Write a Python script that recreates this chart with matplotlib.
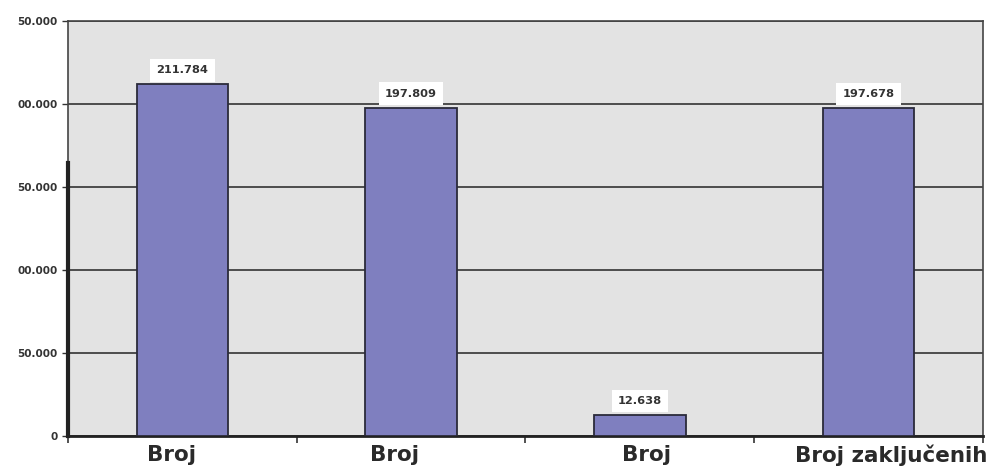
import matplotlib
matplotlib.use("Agg")
import matplotlib.pyplot as plt
import warnings
warnings.filterwarnings("ignore")

categories = ["Broj", "Broj", "Broj", "Broj zaključenih"]
values = [211784, 197809, 12638, 197678]
value_labels = ["211.784", "197.809", "12.638", "197.678"]
yticks = [0, 50000, 100000, 150000, 200000, 250000]
ytick_labels = ["0", "50.000", "00.000", "50.000", "00.000", "50.000"]

# layout: horizontal pixel shifts of the category labels (as in the reference)
label_shift_px = [-11, -17, 7, 23]

FONT = ["DejaVu Sans"]

fig = plt.figure(figsize=(10.04, 4.68), dpi=100)
ax = fig.add_axes([68/1004, 1-436/468, (983-68)/1004, (436-21)/468])
ax.set_facecolor("#e3e3e3")

x = list(range(len(categories)))
ax.bar(x, values, width=0.4, color="#7f7fbf", edgecolor="#2a2a3a", linewidth=1.3, zorder=3)

ax.set_xlim(-0.5, len(categories) - 0.5)
ax.set_ylim(0, 250000)
ax.set_yticks(yticks)
ax.set_yticklabels(ytick_labels, fontsize=7.5, fontweight="bold", color="#333333", family=FONT)
ax.yaxis.grid(True, color="#333333", linewidth=1.2, zorder=1)
ax.set_axisbelow(True)

ax.set_xticks([i - 0.5 for i in range(len(categories) + 1)])
ax.set_xticklabels([])
ax.tick_params(axis="x", length=5, width=1.2, color="#333333", direction="out")
ax.tick_params(axis="y", length=4, width=1.0, color="#333333", pad=3.5)

for s in ax.spines.values():
    s.set_color("#444444")
    s.set_linewidth(1.2)
ax.spines["bottom"].set_linewidth(2.0)
ax.spines["bottom"].set_color("#222222")

# category labels
for i, c in enumerate(categories):
    ax.annotate(c, xy=(i, 0), xycoords=("data", "axes fraction"),
                xytext=(label_shift_px[i], -9), textcoords="offset pixels",
                ha="center", va="top", fontsize=15.5, fontweight="bold", color="#2a2a2a",
                family=FONT, annotation_clip=False)

# value labels
for i, (v, lab) in enumerate(zip(values, value_labels)):
    ax.annotate(lab, xy=(i, v), xytext=(0, 14), textcoords="offset pixels",
                ha="center", va="center", fontsize=8.2, fontweight="bold", color="#333333",
                family=FONT,
                bbox=dict(boxstyle="square,pad=0.55", facecolor="white", edgecolor="none"),
                zorder=4)

# thick left line segment
ax.axvline(-0.5, ymin=0, ymax=(436-163)/415, color="#222222", linewidth=3, zorder=5, clip_on=False)

fig.savefig("out.png", dpi=100, facecolor="white")
